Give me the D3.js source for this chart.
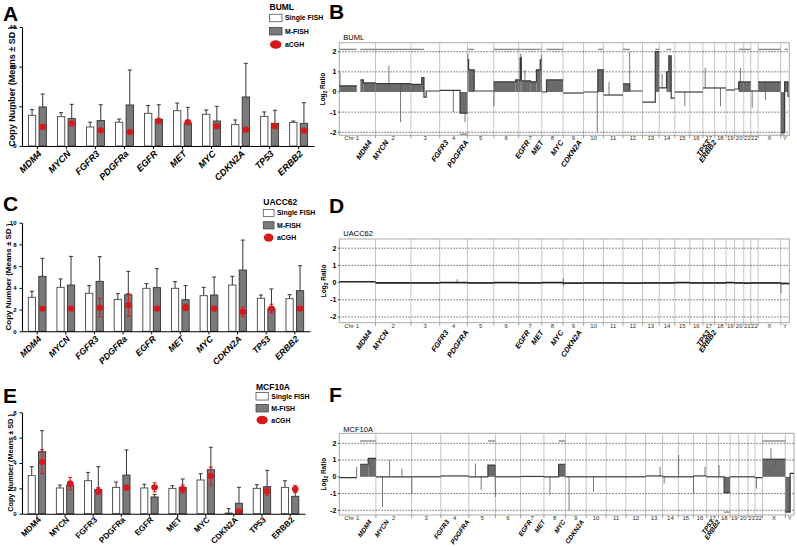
<!DOCTYPE html>
<html><head><meta charset="utf-8">
<script src="https://cdn.jsdelivr.net/npm/d3@7"></script>
<style>
body{margin:0;background:#fff;}
text{font-family:Arial,"Liberation Sans",sans-serif;}
</style>
</head><body>
<svg id="fig" width="797" height="547"></svg>
<script>
// ---------------- data ----------------
const genes = ["MDM4","MYCN","FGFR3","PDGFRa","EGFR","MET","MYC","CDKN2A","TP53","ERBB2"];
const seriesNames = ["Single FISH","M-FISH","aCGH"];

// Panel A: BUML
const bumlSingle   = [3.87,3.70,2.40,3.00,4.12,4.45,4.00,2.69,3.74,2.98];
const bumlSingleSD = [0.71,0.50,0.60,0.40,0.98,0.97,0.54,0.59,0.55,0.17];
const bumlMfish    = [4.92,3.45,3.20,5.17,3.36,2.86,3.15,6.18,2.86,2.86];
const bumlMfishSD  = [1.63,1.80,2.00,4.41,1.84,2.01,1.85,4.24,1.64,2.60];
const bumlAcgh     = [2.40,2.85,1.97,1.76,3.15,3.00,2.50,2.06,2.50,1.93];
const bumlAcghSD   = [0,0,0,0,0.35,0.20,0,0,0.20,0];
const bumlTicks    = [0,5,10,15];

// Panel C: UACC62
const uaccSingle   = [3.13,4.05,3.50,2.94,3.96,3.96,3.28,4.26,3.04,3.00];
const uaccSingleSD = [0.55,0.77,0.70,0.53,0.43,0.61,0.77,0.80,0.30,0.37];
const uaccMfish    = [5.06,4.26,4.60,3.37,4.02,2.91,3.34,5.64,2.06,3.74];
const uaccMfishSD  = [1.66,2.64,2.27,2.15,1.75,1.29,1.66,2.76,1.84,2.30];
const uaccAcgh     = [2.09,2.09,2.18,2.42,2.09,2.20,2.09,1.78,2.09,2.09];
const uaccAcghSD   = [0,0,0.85,1.05,0,0.30,0,0.45,0.40,0.18];
const uaccTicks    = [0,2,4,6,8,10];

// Panel E: MCF10A
const mcfSingle    = [3.00,2.03,2.60,2.08,2.03,2.00,2.66,0.05,2.00,2.08];
const mcfSingleSD  = [0.71,0.23,0.66,0.42,0.29,0.21,0.50,0.35,0.29,0.52];
const mcfMfish     = [4.89,2.26,1.89,3.05,1.32,2.08,3.47,0.82,2.13,1.37];
const mcfMfishSD   = [1.66,0.30,1.82,1.98,0.20,0.66,1.77,1.26,1.29,0.34];
const mcfAcgh      = [4.10,2.37,1.79,2.05,2.08,1.95,2.97,0.18,1.79,1.95];
const mcfAcghSD    = [0.95,0.49,0.27,0.10,0.36,0.32,0.71,0.05,0.32,0.28];
const mcfTicks     = [0,2,4,6,8];

// Genome profiles (B, D, F)
const chromNames = ["1","2","3","4","5","6","7","8","9","10","11","12","13","14","15","16","17","18","19","20","21","22","X","Y"];
const chromLenMb = [249,243,198,191,181,171,159,146,141,136,135,134,115,107,103,90,81,78,59,63,48,51,155,59];
const ratioTicks = [2,1,0,-1,-2];
const profileGenes = ["MDM4","MYCN","FGFR3","PDGFRA","EGFR","MET","MYC","CDKN2A","TP53","ERBB2"];
const profileGeneChr = ["1","2","4","4","7","7","8","9","17","17"];
const profileGeneMb  = [211,77,48,185,66,158,136,116,37,81];

// segments: [chromosome, start Mb, end Mb, log2 ratio]
const bumlSeg = [
["1",0,120,0.3],["1",145,165,0.6],["1",165,249,0.45],
["2",0,243,0.42],
["3",0,75,0.38],["3",75,90,0.72],["3",90,105,-0.25],["3",105,198,0.05],
["4",0,140,0.08],["4",140,191,-1.05],
["5",0,8,1.6],["5",8,46,1.1],["5",46,181,0.05],
["6",0,150,0.5],["6",150,171,0.6],
["7",0,10,0.6],["7",10,18,1.7],["7",18,80,0.55],["7",80,122,0.5],["7",122,148,1.1],["7",148,159,1.6],
["8",0,32,0.0],["8",32,146,0.6],
["9",0,141,-0.05],
["10",0,98,0.0],["10",98,134,1.1],["10",134,136,0.0],
["11",0,135,-0.15],
["12",0,47,0.4],["12",47,134,0.05],
["13",0,88,-0.5],["13",88,115,2.0],
["14",0,50,0.2],["14",50,66,1.0],["14",66,82,1.8],["14",82,107,-0.3],
["15",0,103,0.0],
["16",0,90,0.0],
["17",0,81,0.2],
["18",0,78,0.2],
["19",0,59,0.1],
["20",0,28,0.15],["20",28,63,0.5],
["21",0,48,0.5],
["22",0,51,0.05],
["X",0,155,0.5],
["Y",0,27,-2.0],["Y",27,50,0.5],["Y",50,59,-0.2]
];
const bumlSpikes = [["1",5,0.95],["2",92,1.3],["2",172,-1.5],["4",94,-1.0],["4",174,-1.5],["5",3,1.9],
["6",1,-0.7],["7",14,1.9],["7",43,1.1],["7",155,1.85],["10",94,-2.0],["11",39,0.5],["12",46,2.0],
["14",20,0.9],["15",69,-0.7],["17",16,1.2],["18",40,-0.7],["20",40,1.2],["22",10,-0.8],["X",50,-0.4]];

const uaccSeg = [
["1",0,249,0.05],["2",0,243,-0.02],["3",0,198,-0.02],["4",0,191,0.0],["5",0,181,-0.02],["6",0,171,0.0],
["7",0,159,-0.02],["8",0,146,0.0],["9",0,141,-0.03],["10",0,136,-0.02],["11",0,135,-0.02],["12",0,134,-0.03],
["13",0,115,-0.02],["14",0,107,-0.02],["15",0,103,0.0],["16",0,90,-0.02],["17",0,81,-0.02],["18",0,78,-0.02],
["19",0,59,0.0],["20",0,63,-0.02],["21",0,48,-0.03],["22",0,51,-0.02],["X",0,155,-0.02],["Y",0,59,-0.05]
];
const uaccSpikes = [["4",120,0.2],["9",2,0.25],["9",5,-0.2],["Y",2,-0.6]];

const mcfSeg = [
["1",0,120,-0.05],["1",141,197,0.75],["1",197,249,1.1],
["2",0,243,0.0],["3",0,198,0.0],["4",0,191,0.05],
["5",0,130,0.0],["5",130,181,0.7],
["6",0,171,0.0],["7",0,159,0.02],
["8",0,100,0.0],["8",100,146,0.75],
["9",0,141,0.0],["10",0,136,0.0],["11",0,135,0.0],["12",0,134,0.0],["13",0,115,0.05],
["14",0,107,0.0],["15",0,103,0.0],["16",0,90,0.05],["17",0,81,0.0],
["18",0,38,0.0],["18",38,78,-0.95],
["19",0,59,0.0],["20",0,63,0.0],["21",0,48,0.0],["22",0,51,-0.05],
["X",0,155,1.05],
["Y",0,33,-2.1],["Y",33,59,0.2]
];
const mcfSpikes = [["1",118,0.6],["2",45,-1.8],["2",93,1.0],["2",177,0.5],["3",1,-1.0],["5",45,0.8],
["5",84,-0.8],["5",180,-1.2],["8",41,-1.1],["9",25,-2.0],["10",50,-0.9],["13",98,0.6],["14",11,-0.4],
["15",2,1.3],["16",1,-1.0],["16",79,0.6],["18",3,0.7],["22",10,-0.7],["X",57,1.7],["X",90,0.6]];

// ---------------- drawing ----------------
const svg = d3.select("#fig");
svg.append("rect").attr("width",797).attr("height",547).attr("fill","#fff");
const RED = "#d7191c", GREY = "#7a7a7a";

function panelLetter(t, x, y){
  svg.append("text").attr("x",x).attr("y",y).attr("font-size",21).attr("font-weight","bold").text(t);
}

function barPanel(o){
  const g = svg.append("g");
  const x = d3.scaleBand().domain(genes).range([o.x0, o.x1]).paddingInner(0).paddingOuter(0.03);
  const xs = d3.scaleBand().domain(["s","m"]).range([0, x.bandwidth()]).paddingInner(0.31).paddingOuter(0.52);
  const y = d3.scaleLinear().domain([0, o.max]).range([o.yBot, o.yTop]);
  const rows = genes.map((gname,i)=>({g:gname, s:o.single[i], sSD:o.singleSD[i], m:o.mfish[i], mSD:o.mfishSD[i], a:o.acgh[i], aSD:o.acghSD[i]}));
  const bw = xs.bandwidth();
  const drawErr = (cx, v, sd, color, both) => {
    if (sd <= 0) return;
    const top = y(v + sd), bot = both ? y(Math.max(0, v - sd)) : y(v);
    g.append("line").attr("x1",cx).attr("x2",cx).attr("y1",bot).attr("y2",top).attr("stroke",color).attr("stroke-width",1);
    g.append("line").attr("x1",cx-2).attr("x2",cx+2).attr("y1",top).attr("y2",top).attr("stroke",color).attr("stroke-width",1);
    if (both) g.append("line").attr("x1",cx-2).attr("x2",cx+2).attr("y1",bot).attr("y2",bot).attr("stroke",color).attr("stroke-width",1);
  };
  rows.forEach(r=>{
    const xs0 = x(r.g) + xs("s"), xm0 = x(r.g) + xs("m");
    drawErr(xs0 + bw/2, r.s, r.sSD, "#333", false);
    drawErr(xm0 + bw/2, r.m, r.mSD, "#333", false);
    g.append("rect").attr("x",xs0).attr("y",y(r.s)).attr("width",bw).attr("height",y(0)-y(r.s))
      .attr("fill","#fff").attr("stroke","#444").attr("stroke-width",0.9);
    g.append("rect").attr("x",xm0).attr("y",y(r.m)).attr("width",bw).attr("height",y(0)-y(r.m))
      .attr("fill",GREY).attr("stroke","#333").attr("stroke-width",0.9);
  });
  rows.forEach(r=>{
    const cx = x(r.g) + xs("m") + bw/2;
    drawErr(cx, r.a, r.aSD, RED, true);
    g.append("ellipse").attr("cx",cx).attr("cy",y(r.a)).attr("rx",3.4).attr("ry",3.1).attr("fill",RED);
  });
  const ya = g.append("g").attr("transform",`translate(${o.x0},0)`)
    .call(d3.axisLeft(y).tickValues(o.ticks).tickSize(2.5).tickSizeOuter(0));
  ya.selectAll("text").attr("font-size",6).attr("font-weight","bold").attr("font-family","Arial");
  ya.select(".domain").attr("stroke","#000").attr("stroke-width",1.1);
  const xa = g.append("g").attr("transform",`translate(0,${o.yBot})`)
    .call(d3.axisBottom(x).tickSize(3).tickSizeOuter(0).tickFormat(""));
  xa.select(".domain").attr("stroke","#000").attr("stroke-width",1.1);
  rows.forEach(r=>{
    const cx = x(r.g) + x.bandwidth()/2;
    g.append("text").attr("transform",`translate(${cx+2.5},${o.yBot+o.catDy}) rotate(-45)`)
      .attr("text-anchor","end").attr("dy","0.35em").attr("font-size",o.catFont)
      .attr("font-weight","bold").attr("font-style",o.italic ? "italic":"normal").text(r.g);
  });
  g.append("text").attr("transform",`translate(${o.titleX},${(o.yTop+o.yBot)/2}) rotate(-90)`)
    .attr("text-anchor","middle").attr("dy","0.35em").attr("font-size",o.titleFont).attr("font-weight","bold")
    .text("Copy Number (Means \u00b1 SD )");
  const L = o.legend;
  g.append("text").attr("x",L.x).attr("y",L.nameY).attr("font-size",8.5).attr("font-weight","bold").text(o.name);
  seriesNames.forEach((s,i)=>{
    const cy = L.y0 + i*L.gap;
    if (i===0) g.append("rect").attr("x",L.x).attr("y",cy-L.bh/2).attr("width",L.bw).attr("height",L.bh).attr("fill","#fff").attr("stroke","#555").attr("stroke-width",0.8);
    if (i===1) g.append("rect").attr("x",L.x).attr("y",cy-L.bh/2).attr("width",L.bw).attr("height",L.bh).attr("fill",GREY).attr("stroke","#444").attr("stroke-width",0.8);
    if (i===2) g.append("ellipse").attr("cx",L.x+L.bw/2).attr("cy",cy).attr("rx",L.bw/2-0.5).attr("ry",L.bh/2+0.5).attr("fill",RED);
    g.append("text").attr("x",L.x+L.bw+3).attr("y",cy).attr("dy","0.35em").attr("font-size",6.9).attr("font-weight","bold").text(s);
  });
}

function profilePanel(o){
  const g = svg.append("g");
  const cum = [0, ...d3.cumsum(chromLenMb)];
  const total = cum[cum.length-1];
  const x = d3.scaleLinear().domain([0,total]).range([o.x0,o.x1]);
  const y = d3.scaleLinear().domain(o.dom).range([o.yBot,o.yTop]);
  const gx = (c, mb) => x(cum[chromNames.indexOf(c)] + mb);
  const isGain = v => v >= 0.3, isLoss = v => v <= -0.8;
  g.append("rect").attr("x",o.x0).attr("y",o.yTop).attr("width",o.x1-o.x0).attr("height",o.yBot-o.yTop)
    .attr("fill","#fff").attr("stroke","#aaa").attr("stroke-width",1);
  cum.slice(1,-1).forEach(c=>{
    g.append("line").attr("x1",x(c)).attr("x2",x(c)).attr("y1",o.yTop).attr("y2",o.yBot).attr("stroke","#bdbdbd").attr("stroke-width",0.9);
    g.append("line").attr("x1",x(c)).attr("x2",x(c)).attr("y1",o.yBot).attr("y2",o.yBot+3).attr("stroke","#777").attr("stroke-width",0.7);
  });
  [2,1,-1,-2].forEach(v=>{
    g.append("line").attr("x1",o.x0).attr("x2",o.x1).attr("y1",y(v)).attr("y2",y(v))
      .attr("stroke","#333").attr("stroke-width",0.7).attr("stroke-dasharray","1.6,1.4");
  });
  o.seg.filter(s=>isGain(s[3])||isLoss(s[3])).forEach(s=>{
    const x1 = gx(s[0],s[1]), x2 = gx(s[0],s[2]);
    g.append("rect").attr("x",x1).attr("width",Math.max(0.5,x2-x1))
      .attr("y",Math.min(y(0),y(s[3]))).attr("height",Math.abs(y(s[3])-y(0))).attr("fill","#6b6b6b");
  });
  o.seg.filter(s=>isGain(s[3])||isLoss(s[3])).forEach(s=>{
    const yy = isGain(s[3]) ? y(2)-2.3 : y(-2)+1.8;
    g.append("line").attr("x1",gx(s[0],s[1])).attr("x2",gx(s[0],s[2])).attr("y1",yy).attr("y2",yy)
      .attr("stroke","#8a8a8a").attr("stroke-width",1.4);
  });
  const segAt = (c,mb) => { const s = o.seg.find(s=>s[0]===c && mb>=s[1] && mb<=s[2]); return s ? s[3] : 0; };
  o.spikes.forEach(p=>{
    const xx = gx(p[0],p[1]);
    g.append("line").attr("x1",xx).attr("x2",xx).attr("y1",y(segAt(p[0],p[1]))).attr("y2",y(p[2]))
      .attr("stroke","#555").attr("stroke-width",0.8);
  });
  const line = d3.line().defined(d=>d!==null).x(d=>d[0]).y(d=>d[1]);
  chromNames.forEach(c=>{
    const segs = o.seg.filter(s=>s[0]===c).sort((a,b)=>a[1]-b[1]);
    const pts = [];
    segs.forEach((s,i)=>{
      if (i>0 && s[1] > segs[i-1][2] + 1) pts.push(null);
      pts.push([gx(c,s[1]), y(s[3])], [gx(c,s[2]), y(s[3])]);
    });
    g.append("path").attr("d",line(pts)).attr("fill","none").attr("stroke",o.lineColor).attr("stroke-width",o.lineWidth);
  });
  ratioTicks.forEach(v=>{
    g.append("text").attr("x",o.x0-3).attr("y",y(v)).attr("dy","0.35em").attr("text-anchor","end")
      .attr("font-size",7).attr("font-weight","bold").text(v);
    g.append("line").attr("x1",o.x0-1.5).attr("x2",o.x0).attr("y1",y(v)).attr("y2",y(v)).attr("stroke","#555");
  });
  const t = g.append("text").attr("transform",`translate(${o.titleX},${(o.yTop+o.yBot)/2}) rotate(-90)`)
    .attr("text-anchor","middle").attr("dy","0.35em").attr("font-size",6.5).attr("font-weight","bold");
  t.append("tspan").text("Log");
  t.append("tspan").attr("font-size",4.8).attr("dy","1.5").text("2");
  t.append("tspan").attr("dy","-1.5").text(" Ratio");
  g.append("text").attr("x",o.x0+4).attr("y",o.nameY).attr("font-size",7.5).text(o.name);
  g.append("text").attr("x",o.x0+5).attr("y",o.chrY).attr("dy","0.35em").attr("font-size",6).attr("fill","#333").text("Chr");
  chromNames.forEach((c,i)=>{
    g.append("text").attr("x",x((cum[i]+cum[i+1])/2)).attr("y",o.chrY).attr("dy","0.35em")
      .attr("text-anchor","middle").attr("font-size",6).attr("fill","#333").text(c);
  });
  profileGenes.forEach((gn,i)=>{
    g.append("text").attr("transform",`translate(${gx(profileGeneChr[i],profileGeneMb[i])},${o.geneY}) rotate(-55)`)
      .attr("text-anchor","end").attr("dy","0.35em").attr("font-size",o.geneFont).attr("font-weight","bold")
      .attr("font-style","italic").text(gn);
  });
}

panelLetter("A",3,20.5); panelLetter("B",329,18.5);
panelLetter("C",3,210.5); panelLetter("D",329,213);
panelLetter("E",3,403); panelLetter("F",329,401.5);

barPanel({name:"BUML", x0:22, x1:314, yTop:27, yBot:146, max:15, ticks:bumlTicks,
  single:bumlSingle, singleSD:bumlSingleSD, mfish:bumlMfish, mfishSD:bumlMfishSD, acgh:bumlAcgh, acghSD:bumlAcghSD,
  italic:true, catFont:9.2, catDy:6, titleFont:9, titleX:12,
  legend:{x:269.5, nameY:10, y0:18, gap:13.2, bw:12.5, bh:7.5}});
barPanel({name:"UACC62", x0:22, x1:310, yTop:222.7, yBot:331.3, max:10, ticks:uaccTicks,
  single:uaccSingle, singleSD:uaccSingleSD, mfish:uaccMfish, mfishSD:uaccMfishSD, acgh:uaccAcgh, acghSD:uaccAcghSD,
  italic:true, catFont:8.8, catDy:6, titleFont:8, titleX:8,
  legend:{x:263.3, nameY:205, y0:213, gap:12.3, bw:10.7, bh:7.2}});
barPanel({name:"MCF10A", x0:22, x1:305, yTop:412.3, yBot:513.7, max:8, ticks:mcfTicks,
  single:mcfSingle, singleSD:mcfSingleSD, mfish:mcfMfish, mfishSD:mcfMfishSD, acgh:mcfAcgh, acghSD:mcfAcghSD,
  italic:false, catFont:8.2, catDy:4.5, titleFont:7.3, titleX:10.5,
  legend:{x:256, nameY:389.5, y0:396.3, gap:11.9, bw:12.3, bh:7.5}});

profilePanel({name:"BUML", seg:bumlSeg, spikes:bumlSpikes, x0:339.3, x1:789.3, yTop:42.7, yBot:135.3,
  dom:[-2.149,2.447], titleX:323, nameY:39.5, chrY:138.3, geneY:141, geneFont:7.4, lineColor:"#3a3a3a", lineWidth:1.2});
profilePanel({name:"UACC62", seg:uaccSeg, spikes:uaccSpikes, x0:339.3, x1:789.3, yTop:239, yBot:322.7,
  dom:[-2.331,2.535], titleX:324, nameY:235.8, chrY:325.7, geneY:331, geneFont:7.4, lineColor:"#222", lineWidth:1.7});
profilePanel({name:"MCF10A", seg:mcfSeg, spikes:mcfSpikes, x0:339.3, x1:794, yTop:433.3, yBot:515,
  dom:[-2.281,2.597], titleX:324, nameY:431.8, chrY:518, geneY:520.5, geneFont:6.6, lineColor:"#3a3a3a", lineWidth:1.2});
</script>
</body></html>
